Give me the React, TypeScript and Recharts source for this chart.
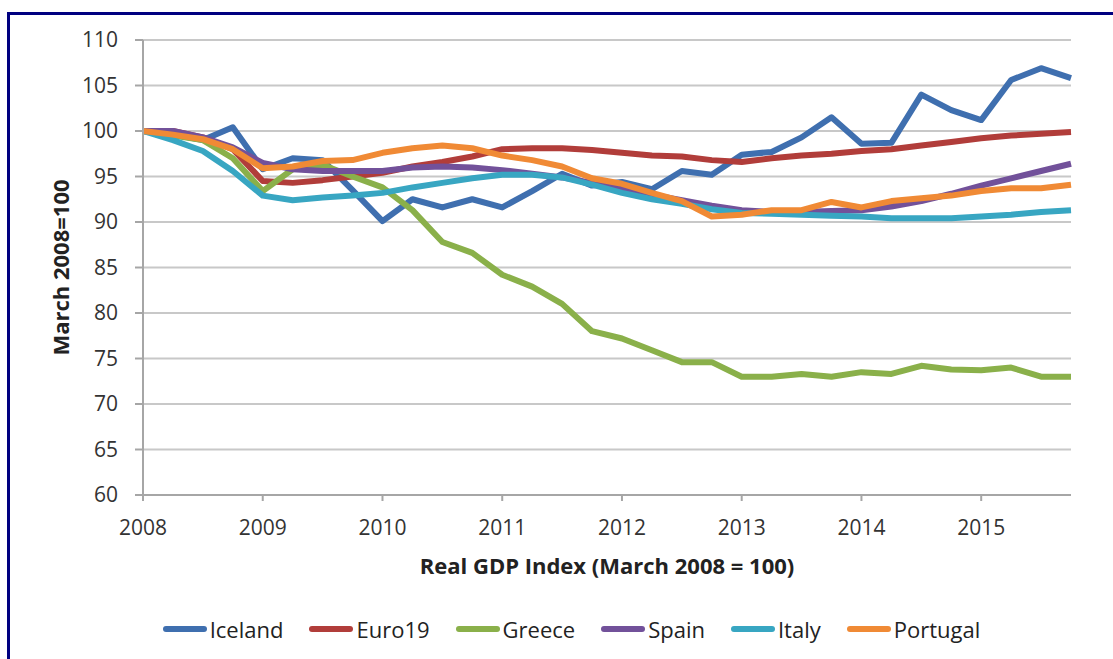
import { CartesianGrid, Line, LineChart, XAxis, YAxis } from "recharts";

const yearLabels = ["2008", "2009", "2010", "2011", "2012", "2013", "2014", "2015"];
const yTicks = [60, 65, 70, 75, 80, 85, 90, 95, 100, 105, 110];

// quarterly values, 2008Q1 .. 2015Q4
const iceland = [100, 99.6, 99, 100.4, 95.8, 97, 96.8, 93.5, 90.1, 92.5, 91.6, 92.5, 91.6, 93.4, 95.3, 94, 94.4, 93.6, 95.6, 95.2, 97.4, 97.7, 99.3, 101.5, 98.6, 98.7, 104, 102.3, 101.2, 105.6, 106.9, 105.8];
const euro19 = [100, 100, 99.3, 98, 94.5, 94.3, 94.6, 95, 95.4, 96.1, 96.6, 97.2, 98, 98.1, 98.1, 97.9, 97.6, 97.3, 97.2, 96.8, 96.6, 97, 97.3, 97.5, 97.8, 98, 98.4, 98.8, 99.2, 99.5, 99.7, 99.9];
const greece = [100, 99.5, 99, 97, 93.4, 95.8, 96.3, 95, 93.8, 91.3, 87.8, 86.6, 84.2, 82.9, 81, 78, 77.2, 75.9, 74.6, 74.6, 73, 73, 73.3, 73, 73.5, 73.3, 74.2, 73.8, 73.7, 74, 73, 73];
const spain = [100, 100, 99.3, 98.2, 96.5, 95.8, 95.6, 95.6, 95.6, 96, 96.1, 96, 95.7, 95.3, 94.9, 94.3, 93.6, 93, 92.4, 91.8, 91.3, 91.1, 91.1, 91.2, 91.3, 91.7, 92.3, 93.1, 94, 94.8, 95.6, 96.4];
const italy = [100, 99, 97.8, 95.6, 92.9, 92.4, 92.7, 92.9, 93.2, 93.8, 94.3, 94.8, 95.2, 95.2, 94.9, 94.1, 93.2, 92.5, 92, 91.4, 91, 90.9, 90.8, 90.7, 90.6, 90.4, 90.4, 90.4, 90.6, 90.8, 91.1, 91.3];
const portugal = [100, 99.6, 99.1, 98, 95.9, 96.1, 96.7, 96.8, 97.6, 98.1, 98.4, 98.1, 97.3, 96.8, 96.1, 94.8, 94.2, 93.2, 92.3, 90.6, 90.8, 91.3, 91.3, 92.2, 91.6, 92.3, 92.6, 92.9, 93.4, 93.7, 93.7, 94.1];

const series = [
  { key: "Iceland", values: iceland, color: "#3f6faf" },
  { key: "Euro19", values: euro19, color: "#b13d3a" },
  { key: "Greece", values: greece, color: "#8ab04a" },
  { key: "Spain", values: spain, color: "#72519a" },
  { key: "Italy", values: italy, color: "#38a6c2" },
  { key: "Portugal", values: portugal, color: "#f08a35" },
];

const data = iceland.map((_, i) => {
  const row: Record<string, number> = { q: i };
  series.forEach((s) => (row[s.key] = s.values[i]));
  return row;
});

const font = "'Open Sans', sans-serif";

export default function App() {
  return (
    <div style={{ position: "absolute", left: 0, top: 0, width: 1113, height: 659, background: "#fff", fontFamily: font }}>
      <div
        style={{
          position: "absolute",
          left: 7,
          top: 12,
          right: 0,
          bottom: 0,
          borderLeft: "3px solid #000080",
          borderTop: "3px solid #000080",
        }}
      />
      <div style={{ position: "absolute", left: 0, top: 0 }}>
        <LineChart width={1113} height={659} data={data} margin={{ top: 40, right: 42, left: 0, bottom: 64 }}>
          <CartesianGrid vertical={false} stroke="#c8c8c8" strokeWidth={2} />
          <XAxis
            dataKey="q"
            type="number"
            domain={[0, 31]}
            ticks={[0, 4, 8, 12, 16, 20, 24, 28]}
            tickFormatter={(v) => yearLabels[v / 4]}
            height={100}
            stroke="#a6a6a6"
            strokeWidth={2}
            tickSize={6}
            tickMargin={19}
            tick={{ fill: "#333", fontSize: 21, fontFamily: font }}
            label={{
              value: "Real GDP Index (March 2008 = 100)",
              position: "insideBottom",
              offset: 21,
              fill: "#222",
              fontSize: 22,
              fontWeight: 700,
              fontFamily: font,
            }}
          />
          <YAxis
            domain={[60, 110]}
            ticks={yTicks}
            width={143}
            stroke="#a6a6a6"
            strokeWidth={2}
            tickSize={8}
            tickMargin={17}
            interval={0}
            tick={{ fill: "#333", fontSize: 21, fontFamily: font }}
            label={{
              value: "March 2008=100",
              angle: -90,
              position: "center",
              dx: -10,
              fill: "#222",
              fontSize: 22,
              fontWeight: 700,
              fontFamily: font,
            }}
          />
          {series.map((s) => (
            <Line
              key={s.key}
              type="linear"
              dataKey={s.key}
              stroke={s.color}
              strokeWidth={6}
              strokeLinejoin="round"
              dot={false}
              activeDot={false}
              isAnimationActive={false}
            />
          ))}
        </LineChart>
      </div>
      <div
        style={{
          position: "absolute",
          left: 0,
          width: 1113,
          top: 613,
          display: "flex",
          justifyContent: "center",
          gap: 26,
          paddingLeft: 30,
          boxSizing: "border-box",
        }}
      >
        {series.map((s) => (
          <div key={s.key} style={{ display: "flex", alignItems: "center", gap: 3 }}>
            <div style={{ width: 44, height: 6, borderRadius: 3, background: s.color }} />
            <span style={{ fontSize: 22, color: "#222", lineHeight: "32px" }}>{s.key}</span>
          </div>
        ))}
      </div>
    </div>
  );
}
